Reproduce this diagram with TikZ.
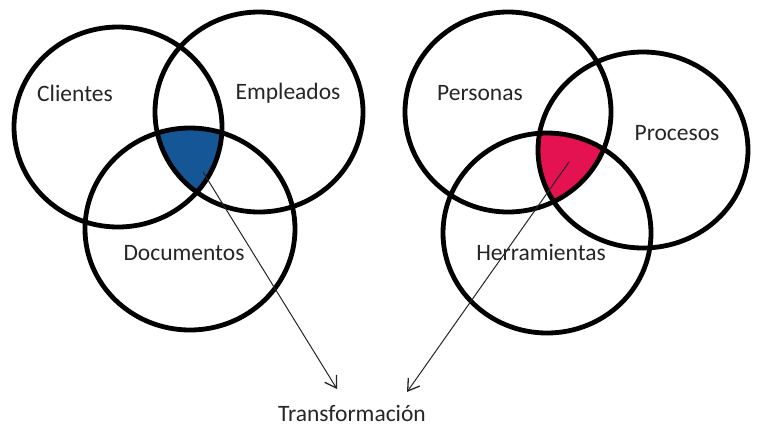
\documentclass[tikz,border=0pt]{standalone}
\usepackage{fontspec}
\setmainfont{Carlito}
\usetikzlibrary{arrows.meta}
\definecolor{vblue}{RGB}{20,86,150}
\definecolor{vpink}{RGB}{228,18,80}
\begin{document}
\begin{tikzpicture}[x=1pt,y=-1pt,
  setline/.style={line width=4.8pt, line join=round},
  lab/.style={font=\fontsize{23.5}{28}\selectfont, text=black!85, inner sep=0pt},
  con/.style={line width=1pt, draw=black!85, -{Straight Barb[length=11pt,width=14pt,line width=1.3pt]}}]
\useasboundingbox (0,0) rectangle (762,445);
\fill[white] (0,0) rectangle (762,445);
% left set
\def\cA{(118,127) ellipse [x radius=104, y radius=100]}
\def\cB{(259,112) ellipse [x radius=104, y radius=100]}
\def\cC{(190,229) ellipse [x radius=105, y radius=101]}
\begin{scope}
  \clip \cA; \clip \cB; \fill[vblue] \cC;
\end{scope}
\draw[setline] \cA;
\draw[setline] \cB;
\draw[setline] \cC;
% right set
\def\cD{(508,112) ellipse [x radius=103, y radius=100]}
\def\cE{(643,150) ellipse [x radius=105, y radius=98]}
\def\cF{(547,233) ellipse [x radius=104, y radius=100]}
\begin{scope}
  \clip \cD; \clip \cE; \fill[vpink] \cF;
\end{scope}
\draw[setline] \cD;
\draw[setline] \cE;
\draw[setline] \cF;
% labels
\node[lab] (cli) at (75,93) {Clientes};
\node[lab] (emp) at (288,93) {Empleados};
\node[lab] (doc) at (184,253) {Documentos};
\node[lab] (per) at (480,93) {Personas};
\node[lab] (pro) at (677,133) {Procesos};
\node[lab] (her) at (541,252) {Herramientas};
\node[lab] (tra) at (352,413) {Transformación};
% connectors
\coordinate (s1) at (203,172);
\coordinate (s2) at (569,162);
\coordinate (e1) at (337,389);
\coordinate (e2) at (407,392);
\draw[con] (s1) -- (e1);
\draw[con] (s2) -- (e2);
\end{tikzpicture}
\end{document}
